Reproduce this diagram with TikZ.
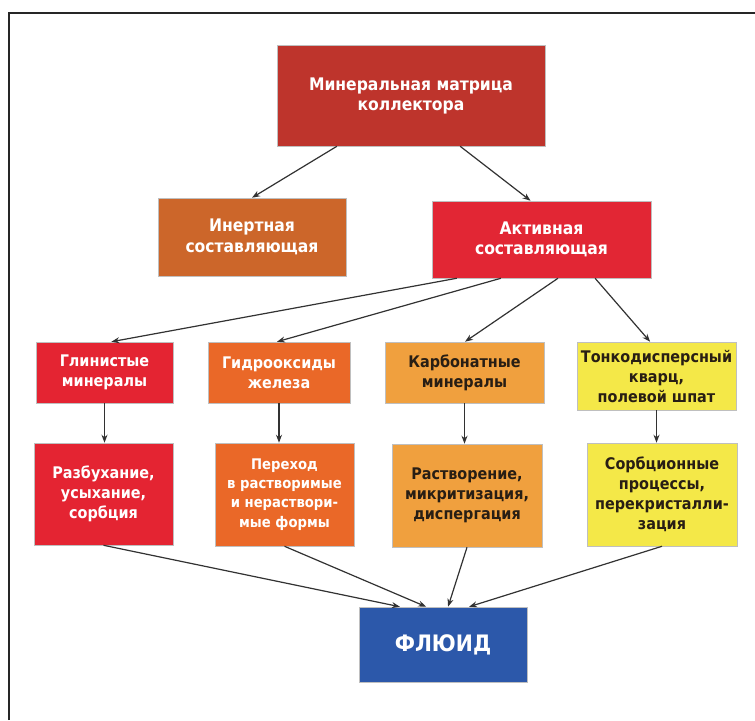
\documentclass[tikz,border=0pt]{standalone}
\usepackage{fontspec}
\setmainfont{DejaVu Sans Condensed}
\usetikzlibrary{arrows.meta,calc}
\definecolor{cTop}{RGB}{190,52,44}
\definecolor{cInert}{RGB}{204,102,42}
\definecolor{cActive}{RGB}{226,38,52}
\definecolor{cRed}{RGB}{228,36,50}
\definecolor{cOrange}{RGB}{234,104,40}
\definecolor{cLOrange}{RGB}{240,160,62}
\definecolor{cYellow}{RGB}{244,232,72}
\definecolor{cBlue}{RGB}{44,88,170}
\definecolor{cLine}{RGB}{50,50,50}
\definecolor{cDark}{RGB}{40,30,20}
\tikzset{
  x=0.75pt, y=-0.75pt,
  box/.style={draw=black!25, line width=0.4pt, align=center, inner sep=2pt,
    font=\bfseries\fontsize{12}{15}\selectfont, text=white},
  darktext/.style={text=cDark},
  arr/.style={draw=cLine, line width=0.9pt, -{Stealth[length=6pt,width=4.5pt]}},
}
\begin{document}
\begin{tikzpicture}
\useasboundingbox (0,0) rectangle (755,720);
\fill[white] (0,0) rectangle (755,720);
\draw[line width=1.6pt, black!85] (9,720) -- (9,13) -- (755,13);

\node[box, fill=cTop, minimum width=201pt, minimum height=75.75pt,
      font=\bfseries\fontsize{13}{15}\selectfont] (top) at (411,95.5)
      {Минеральная матрица\\коллектора};
\node[box, fill=cInert, minimum width=141pt, minimum height=58.5pt,
      font=\bfseries\fontsize{13}{15.5}\selectfont] (inert) at (252,237)
      {Инертная\\составляющая};
\node[box, fill=cActive, minimum width=164.25pt, minimum height=57.75pt,
      font=\bfseries\fontsize{13}{15.5}\selectfont] (active) at (541.5,239.5)
      {Активная\\составляющая};

\node[box, fill=cRed, minimum width=102.75pt, minimum height=45.75pt] (glin) at (104.5,372.5)
      {Глинистые\\минералы};
\node[box, fill=cOrange, minimum width=106.5pt, minimum height=45.75pt] (gidro) at (279,372.5)
      {Гидрооксиды\\железа};
\node[box, darktext, fill=cLOrange, minimum width=119.25pt, minimum height=45.75pt] (karb) at (464.5,372.5)
      {Карбонатные\\минералы};
\node[box, darktext, fill=cYellow, minimum width=119.25pt, minimum height=51pt] (tonko) at (656.5,376)
      {Тонкодисперсный\\кварц,\\полевой шпат};

\node[box, fill=cRed, minimum width=104.25pt, minimum height=76.5pt] (razb) at (103.5,494)
      {Разбухание,\\усыхание,\\сорбция};
\node[box, fill=cOrange, minimum width=104.25pt, minimum height=77.25pt,
      font=\bfseries\fontsize{11}{14.5}\selectfont] (pereh) at (284.5,494.5)
      {Переход\\в растворимые\\и нераствори-\\мые формы};
\node[box, darktext, fill=cLOrange, minimum width=112.5pt, minimum height=77.25pt] (rastv) at (467,495.5)
      {Растворение,\\микритизация,\\диспергация};
\node[box, darktext, fill=cYellow, minimum width=112.5pt, minimum height=77.25pt] (sorb) at (662,494.5)
      {Сорбционные\\процессы,\\перекристалли-\\зация};

\node[box, fill=cBlue, minimum width=126pt, minimum height=56.25pt,
      font=\bfseries\fontsize{17}{20}\selectfont] (fluid) at (443,644.5) {ФЛЮИД};

% top level
\draw[arr] ($(top.south west)!0.224!(top.south east)$) -- (inert.north);
\draw[arr] ($(top.south west)!0.683!(top.south east)$) -- ($(active.north west)!0.45!(active.north east)$);
% active to row 1
\draw[arr] ($(active.south west)!0.114!(active.south east)$) -- ($(glin.north west)!0.55!(glin.north east)$);
\draw[arr] ($(active.south west)!0.315!(active.south east)$) -- ($(gidro.north west)!0.486!(gidro.north east)$);
\draw[arr] ($(active.south west)!0.575!(active.south east)$) -- ($(karb.north west)!0.503!(karb.north east)$);
\draw[arr] ($(active.south west)!0.744!(active.south east)$) -- ($(tonko.north west)!0.46!(tonko.north east)$);
% verticals
\draw[arr] (glin.south) -- (razb.north -| glin.south);
\draw[arr] (gidro.south) -- (pereh.north -| gidro.south);
\draw[arr] (karb.south) -- (rastv.north -| karb.south);
\draw[arr] (tonko.south) -- (sorb.north -| tonko.south);
% to fluid
\draw[arr] (razb.south) -- ($(fluid.north west)!0.244!(fluid.north east)$);
\draw[arr] (pereh.south) -- ($(fluid.north west)!0.40!(fluid.north east)$);
\draw[arr] (rastv.south) -- ($(fluid.north west)!0.53!(fluid.north east)$);
\draw[arr] (sorb.south) -- ($(fluid.north west)!0.655!(fluid.north east)$);
\end{tikzpicture}
\end{document}
